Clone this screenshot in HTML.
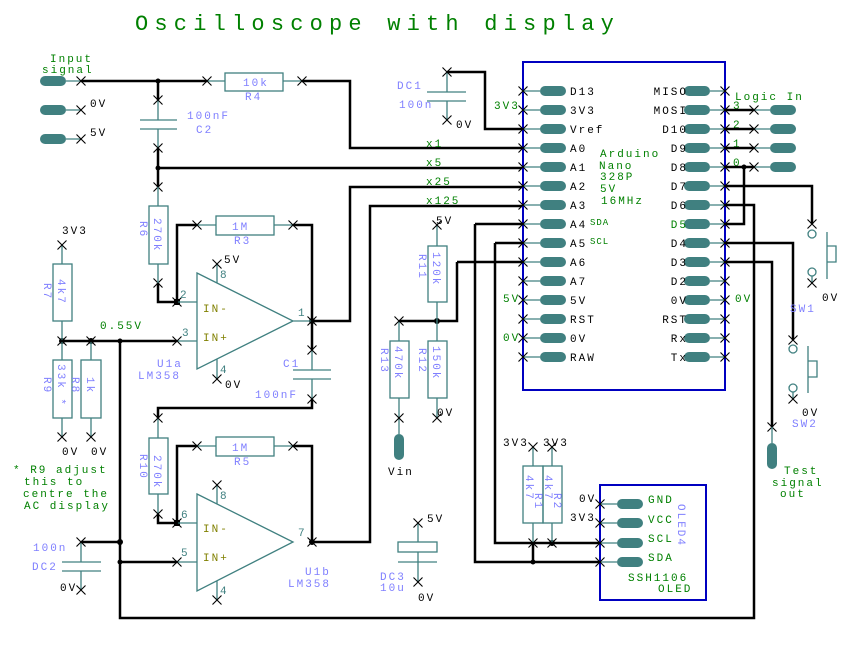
<!DOCTYPE html>
<html><head><meta charset="utf-8"><style>
html,body{margin:0;padding:0;background:#fff}
svg{display:block}
text{font-family:"Liberation Mono",monospace;font-size:11px;letter-spacing:2px}
.g{fill:#008000}.b{fill:#7f7fff}.k{fill:#000}.o{fill:#808000}.t{fill:#408080}
.w{stroke:#000;stroke-width:2.5;fill:none}
.c{stroke:#408080;stroke-width:1.3;fill:none}
</style></head><body>
<svg width="864" height="647" viewBox="0 0 864 647" xmlns="http://www.w3.org/2000/svg">
<defs>
<symbol id="x" overflow="visible"><path d="M-4.5 -4.5L4.5 4.5M4.5 -4.5L-4.5 4.5" stroke="#000" stroke-width="1.1"/></symbol>
<symbol id="p" overflow="visible"><rect x="-13" y="-5" width="26" height="10" rx="5" fill="#408080"/></symbol>
<symbol id="pv" overflow="visible"><rect x="-5" y="-13" width="10" height="26" rx="5" fill="#408080"/></symbol>
</defs>
<text x="135" y="30" class="g" style="font-size:22px;letter-spacing:6.2px">Oscilloscope with display</text>

<!-- Input connectors -->
<text x="50" y="62" class="g">Input</text><text x="42" y="73" class="g">signal</text>
<use href="#p" x="53" y="81"/><use href="#p" x="53" y="110"/><use href="#p" x="53" y="139"/>
<path class="c" d="M66 81H81M66 110H81M66 139H81"/>
<use href="#x" x="81" y="81"/><use href="#x" x="81" y="110"/><use href="#x" x="81" y="139"/>
<text x="90" y="107" class="k">0V</text><text x="90" y="136" class="k">5V</text>

<!-- wires -->
<path class="w" d="M81 81H158V100M158 148V187M158 81H207M302 81H350V148H523M158 168H523M158 283V302H177V225H197M293 225H312V321M312 321H350V187H523M312 321V350M312 399V408H158V418M158 514V523H177V446H197M293 446H312V542H370V206H523M62 341H177M120 341V618H754V205H725M81 542H120M120 562H177"/>
<circle cx="158" cy="81" r="2.5"/><circle cx="158" cy="168" r="2.5"/>
<rect x="174" y="299" width="6" height="6"/><rect x="174" y="520" width="6" height="6"/>
<circle cx="312" cy="321" r="3"/><circle cx="312" cy="542" r="3"/>
<circle cx="62" cy="341" r="3"/><circle cx="91" cy="341" r="3"/><circle cx="120" cy="341" r="2.5"/>
<circle cx="120" cy="542" r="3"/><circle cx="120" cy="562" r="2.5"/>

<!-- R4 -->
<path class="c" d="M207 81H225M283 81H302"/><rect class="c" x="225" y="73" width="58" height="18"/>
<text x="243" y="86" class="b">10k</text><text x="245" y="100" class="b">R4</text>
<use href="#x" x="207" y="81"/><use href="#x" x="302" y="81"/>
<!-- C2 -->
<path class="c" d="M158 100V120M140 120H177M140 129H177M158 129V148"/>
<use href="#x" x="158" y="100"/><use href="#x" x="158" y="148"/>
<text x="187" y="119" class="b">100nF</text><text x="196" y="133" class="b">C2</text>
<!-- R6 -->
<use href="#x" x="158" y="187"/><use href="#x" x="158" y="283"/>
<path class="c" d="M158 187V206M158 264V283"/><rect class="c" x="149" y="206" width="19" height="58"/>
<text transform="translate(154 218) rotate(90)" class="b">270k</text>
<text transform="translate(140 221) rotate(90)" class="b">R6</text>
<!-- R3 -->
<path class="c" d="M197 225H216M274 225H293"/><rect class="c" x="216" y="216" width="58" height="19"/>
<text x="232" y="230" class="b">1M</text><text x="234" y="244" class="b">R3</text>
<use href="#x" x="197" y="225"/><use href="#x" x="293" y="225"/>
<!-- U1a -->
<path class="c" d="M197 273L293 321L197 369ZM177 302H197M177 341H197M293 321H312M217 283V264M217 359V379"/>
<use href="#x" x="177" y="302"/><use href="#x" x="177" y="341"/><use href="#x" x="217" y="264"/><use href="#x" x="217" y="379"/><use href="#x" x="312" y="321"/>
<text x="203" y="312" class="o">IN-</text><text x="203" y="341" class="o">IN+</text>
<text x="180" y="298" class="t">2</text><text x="182" y="336" class="t">3</text><text x="220" y="278" class="t">8</text><text x="220" y="373" class="t">4</text><text x="298" y="316" class="t">1</text>
<text x="224" y="263" class="k">5V</text><text x="225" y="388" class="k">0V</text>
<text x="157" y="367" class="b">U1a</text><text x="138" y="379" class="b">LM358</text>
<!-- C1 -->
<path class="c" d="M312 350V370M293 370H331M293 379H331M312 379V399"/>
<use href="#x" x="312" y="350"/><use href="#x" x="312" y="399"/>
<text x="283" y="367" class="b">C1</text><text x="255" y="398" class="b">100nF</text>
<!-- R10 -->
<path class="c" d="M158 418V438M158 494V514"/><rect class="c" x="149" y="438" width="19" height="56"/>
<use href="#x" x="158" y="418"/><use href="#x" x="158" y="514"/>
<text transform="translate(154 455) rotate(90)" class="b">270k</text>
<text transform="translate(140 454) rotate(90)" class="b">R10</text>
<!-- R5 -->
<path class="c" d="M197 446H216M274 446H293"/><rect class="c" x="216" y="437" width="58" height="19"/>
<text x="232" y="451" class="b">1M</text><text x="234" y="465" class="b">R5</text>
<use href="#x" x="197" y="446"/><use href="#x" x="293" y="446"/>
<!-- U1b -->
<path class="c" d="M197 494L293 542L197 591ZM177 523H197M177 562H197M217 504V485M217 581V600"/>
<use href="#x" x="177" y="523"/><use href="#x" x="177" y="562"/><use href="#x" x="217" y="485"/><use href="#x" x="217" y="600"/><use href="#x" x="312" y="542"/>
<text x="203" y="532" class="o">IN-</text><text x="203" y="561" class="o">IN+</text>
<text x="181" y="518" class="t">6</text><text x="181" y="556" class="t">5</text><text x="220" y="499" class="t">8</text><text x="220" y="594" class="t">4</text><text x="298" y="536" class="t">7</text>
<text x="305" y="575" class="b">U1b</text><text x="288" y="587" class="b">LM358</text>
<!-- R7 R9 R8 -->
<text x="62" y="234" class="k">3V3</text>
<path class="c" d="M62 245V264M62 321V341M62 341V360M62 418V437M91 341V360M91 418V437"/>
<rect class="c" x="53" y="264" width="19" height="57"/>
<rect class="c" x="53" y="360" width="19" height="58"/><rect class="c" x="81" y="360" width="20" height="58"/>
<use href="#x" x="62" y="245"/><use href="#x" x="62" y="341"/><use href="#x" x="91" y="341"/>
<use href="#x" x="62" y="437"/><use href="#x" x="91" y="437"/>
<text transform="translate(58 279) rotate(90)" class="b">4k7</text><text transform="translate(44 283) rotate(90)" class="b">R7</text>
<text transform="translate(58 364) rotate(90)" class="b">33k *</text><text transform="translate(44 377) rotate(90)" class="b">R9</text>
<text transform="translate(87 377) rotate(90)" class="b">1k</text><text transform="translate(72 377) rotate(90)" class="b">R8</text>
<text x="100" y="329" class="g">0.55V</text>
<text x="62" y="455" class="k">0V</text><text x="91" y="455" class="k">0V</text>
<text x="13" y="473" class="g">* R9 adjust</text><text x="24" y="485" class="g">this to</text>
<text x="23" y="497" class="g">centre the</text><text x="24" y="509" class="g">AC display</text>
<!-- DC2 -->
<path class="c" d="M81 542V562M62 562H101M62 571H101M81 571V590"/>
<use href="#x" x="81" y="542"/><use href="#x" x="81" y="590"/>
<text x="33" y="551" class="b">100n</text><text x="32" y="570" class="b">DC2</text><text x="60" y="591" class="k">0V</text>

<!-- DC1 -->
<path class="w" d="M447 72H485V129H523"/>
<path class="c" d="M447 72V92M427 92H466M427 101H466M447 101V120"/>
<use href="#x" x="447" y="72"/><use href="#x" x="447" y="120"/>
<text x="397" y="89" class="b">DC1</text><text x="399" y="108" class="b">100n</text><text x="456" y="128" class="k">0V</text>

<!-- Arduino -->
<rect x="523" y="62" width="202" height="328" fill="none" stroke="#0000c0" stroke-width="2"/>
<g class="c">
<path d="M523 91H540M523 110H540M523 129H540M523 148H540M523 167H540M523 186H540M523 205H540M523 224H540M523 243H540M523 262H540M523 281H540M523 300H540M523 319H540M523 338H540M523 357H540"/>
<path d="M710 91H725M710 110H725M710 129H725M710 148H725M710 167H725M710 186H725M710 205H725M710 224H725M710 243H725M710 262H725M710 281H725M710 300H725M710 319H725M710 338H725M710 357H725"/>
</g>
<g>
<use href="#p" x="553" y="91"/><use href="#p" x="553" y="110"/><use href="#p" x="553" y="129"/><use href="#p" x="553" y="148"/><use href="#p" x="553" y="167"/><use href="#p" x="553" y="186"/><use href="#p" x="553" y="205"/><use href="#p" x="553" y="224"/><use href="#p" x="553" y="243"/><use href="#p" x="553" y="262"/><use href="#p" x="553" y="281"/><use href="#p" x="553" y="300"/><use href="#p" x="553" y="319"/><use href="#p" x="553" y="338"/><use href="#p" x="553" y="357"/>
<use href="#p" x="697" y="91"/><use href="#p" x="697" y="110"/><use href="#p" x="697" y="129"/><use href="#p" x="697" y="148"/><use href="#p" x="697" y="167"/><use href="#p" x="697" y="186"/><use href="#p" x="697" y="205"/><use href="#p" x="697" y="224"/><use href="#p" x="697" y="243"/><use href="#p" x="697" y="262"/><use href="#p" x="697" y="281"/><use href="#p" x="697" y="300"/><use href="#p" x="697" y="319"/><use href="#p" x="697" y="338"/><use href="#p" x="697" y="357"/>
<use href="#x" x="523" y="91"/><use href="#x" x="523" y="110"/><use href="#x" x="523" y="129"/><use href="#x" x="523" y="148"/><use href="#x" x="523" y="167"/><use href="#x" x="523" y="186"/><use href="#x" x="523" y="205"/><use href="#x" x="523" y="224"/><use href="#x" x="523" y="243"/><use href="#x" x="523" y="262"/><use href="#x" x="523" y="281"/><use href="#x" x="523" y="300"/><use href="#x" x="523" y="319"/><use href="#x" x="523" y="338"/><use href="#x" x="523" y="357"/>
<use href="#x" x="725" y="91"/><use href="#x" x="725" y="110"/><use href="#x" x="725" y="129"/><use href="#x" x="725" y="148"/><use href="#x" x="725" y="167"/><use href="#x" x="725" y="186"/><use href="#x" x="725" y="205"/><use href="#x" x="725" y="224"/><use href="#x" x="725" y="243"/><use href="#x" x="725" y="262"/><use href="#x" x="725" y="281"/><use href="#x" x="725" y="300"/><use href="#x" x="725" y="319"/><use href="#x" x="725" y="338"/><use href="#x" x="725" y="357"/>
</g>
<g class="k">
<text x="570" y="95">D13</text><text x="570" y="114">3V3</text><text x="570" y="133">Vref</text><text x="570" y="152">A0</text><text x="570" y="171">A1</text><text x="570" y="190">A2</text><text x="570" y="209">A3</text><text x="570" y="228">A4</text><text x="570" y="247">A5</text><text x="570" y="266">A6</text><text x="570" y="285">A7</text><text x="570" y="304">5V</text><text x="570" y="323">RST</text><text x="570" y="342">0V</text><text x="570" y="361">RAW</text>
</g>
<g class="k" text-anchor="end">
<text x="688" y="95">MISO</text><text x="688" y="114">MOSI</text><text x="688" y="133">D10</text><text x="688" y="152">D9</text><text x="688" y="171">D8</text><text x="688" y="190">D7</text><text x="688" y="209">D6</text><text x="688" y="228" class="g">D5</text><text x="688" y="247">D4</text><text x="688" y="266">D3</text><text x="688" y="285">D2</text><text x="688" y="304">0V</text><text x="688" y="323">RST</text><text x="688" y="342">Rx</text><text x="688" y="361">Tx</text>
</g>
<text x="590" y="225" class="g" style="font-size:9px;letter-spacing:1px">SDA</text><text x="590" y="244" class="g" style="font-size:9px;letter-spacing:1px">SCL</text>
<text x="600" y="157" class="g">Arduino</text><text x="599" y="169" class="g">Nano</text><text x="600" y="180" class="g">328P</text><text x="600" y="192" class="g">5V</text><text x="601" y="204" class="g">16MHz</text>
<text x="494" y="109" class="g">3V3</text><text x="503" y="302" class="g">5V</text><text x="503" y="341" class="g">0V</text><text x="735" y="302" class="g">0V</text>
<text x="426" y="147" class="g">x1</text><text x="426" y="166" class="g">x5</text><text x="426" y="185" class="g">x25</text><text x="426" y="204" class="g">x125</text>

<!-- Logic in -->
<text x="735" y="100" class="g">Logic In</text>
<text x="733" y="109" class="g">3</text><text x="733" y="128" class="g">2</text><text x="733" y="147" class="g">1</text><text x="733" y="166" class="g">0</text>
<path class="w" d="M725 110H754M725 129H754M725 148H754M725 167H754M744 167V224H725M725 186H812V224M725 243H793V340M725 262H772V427M475 224H523M475 224V562H600M495 243H523M495 243V543H600M457 262H523M457 262V321H399M533 543V562"/>
<circle cx="744" cy="167" r="2.5"/><circle cx="437" cy="321" r="3"/><circle cx="533" cy="562" r="2.5"/><circle cx="552" cy="543" r="3"/>
<path class="c" d="M754 110H770M754 129H770M754 148H770M754 167H770"/>
<use href="#p" x="783" y="110"/><use href="#p" x="783" y="129"/><use href="#p" x="783" y="148"/><use href="#p" x="783" y="167"/>
<use href="#x" x="754" y="110"/><use href="#x" x="754" y="129"/><use href="#x" x="754" y="148"/><use href="#x" x="754" y="167"/>
<!-- SW1 -->
<g class="c">
<circle cx="812" cy="234" r="4"/><circle cx="812" cy="272" r="4"/><path d="M812 276V283M827 232V279M827 246H836V262H827"/>
<circle cx="793" cy="349" r="4"/><circle cx="793" cy="388" r="4"/><path d="M793 392V399M808 346V393M808 361H817V377H808"/>
</g>
<use href="#x" x="812" y="224"/><use href="#x" x="812" y="283"/><use href="#x" x="793" y="340"/><use href="#x" x="793" y="399"/>
<text x="822" y="301" class="k">0V</text><text x="790" y="312" class="b">SW1</text>
<text x="802" y="416" class="k">0V</text><text x="792" y="427" class="b">SW2</text>
<!-- Test signal -->
<use href="#x" x="772" y="427"/><use href="#pv" x="772" y="456"/><path class="c" d="M772 427V443"/>
<text x="784" y="474" class="g">Test</text><text x="772" y="486" class="g">signal</text><text x="780" y="497" class="g">out</text>

<!-- R11 R12 R13 -->
<text x="436" y="224" class="k">5V</text>
<path class="c" d="M437 225V246M437 302V341M437 398V418M399 321V341M399 398V418M399 418V434"/>
<rect class="c" x="428" y="246" width="19" height="56"/><rect class="c" x="428" y="341" width="19" height="57"/><rect class="c" x="390" y="341" width="19" height="57"/>
<use href="#x" x="437" y="225"/><use href="#x" x="437" y="418"/><use href="#x" x="399" y="418"/><use href="#x" x="399" y="321"/>
<text transform="translate(433 252) rotate(90)" class="b">120k</text><text transform="translate(419 254) rotate(90)" class="b">R11</text>
<text transform="translate(433 346) rotate(90)" class="b">150k</text><text transform="translate(419 348) rotate(90)" class="b">R12</text>
<text transform="translate(395 346) rotate(90)" class="b">470k</text><text transform="translate(381 348) rotate(90)" class="b">R13</text>
<text x="437" y="416" class="k">0V</text>
<use href="#pv" x="399" y="447"/><text x="388" y="475" class="k">Vin</text>

<!-- DC3 -->
<text x="427" y="522" class="k">5V</text>
<path class="c" d="M418 523V542M418 552V562M398 562H437M418 562V582"/><rect class="c" x="398" y="542" width="39" height="10"/>
<use href="#x" x="418" y="523"/><use href="#x" x="418" y="582"/>
<text x="380" y="580" class="b">DC3</text><text x="380" y="591" class="b">10u</text><text x="418" y="601" class="k">0V</text>

<!-- R1 R2 -->
<text x="503" y="446" class="k">3V3</text><text x="543" y="446" class="k">3V3</text>
<path class="c" d="M533 447V466M552 447V466M533 523V543M552 523V543"/>
<rect class="c" x="523" y="466" width="20" height="57"/><rect class="c" x="543" y="466" width="19" height="57"/>
<use href="#x" x="533" y="447"/><use href="#x" x="552" y="447"/><use href="#x" x="533" y="543"/><use href="#x" x="552" y="543"/>
<text transform="translate(526 475) rotate(90)" class="b">4k7</text><text transform="translate(535 493) rotate(90)" class="b">R1</text>
<text transform="translate(545 475) rotate(90)" class="b">4k7</text><text transform="translate(554 493) rotate(90)" class="b">R2</text>

<!-- OLED -->
<rect x="600" y="485" width="106" height="115" fill="none" stroke="#0000c0" stroke-width="2"/>
<path class="c" d="M600 504H617M600 523H617M600 543H617M600 562H617"/>
<use href="#p" x="630" y="504"/><use href="#p" x="630" y="523"/><use href="#p" x="630" y="543"/><use href="#p" x="630" y="562"/>
<use href="#x" x="600" y="504"/><use href="#x" x="600" y="523"/><use href="#x" x="600" y="543"/><use href="#x" x="600" y="562"/>
<g class="g" style="font-size:10px;letter-spacing:1px"><text x="648" y="503">GND</text><text x="648" y="523">VCC</text><text x="648" y="542">SCL</text><text x="648" y="561">SDA</text></g>
<text transform="translate(678 504) rotate(90)" class="b">OLED4</text>
<text x="628" y="581" class="g">SSH1106</text><text x="658" y="592" class="g">OLED</text>
<text x="579" y="502" class="k">0V</text><text x="570" y="521" class="k">3V3</text>
</svg>
</body></html>
